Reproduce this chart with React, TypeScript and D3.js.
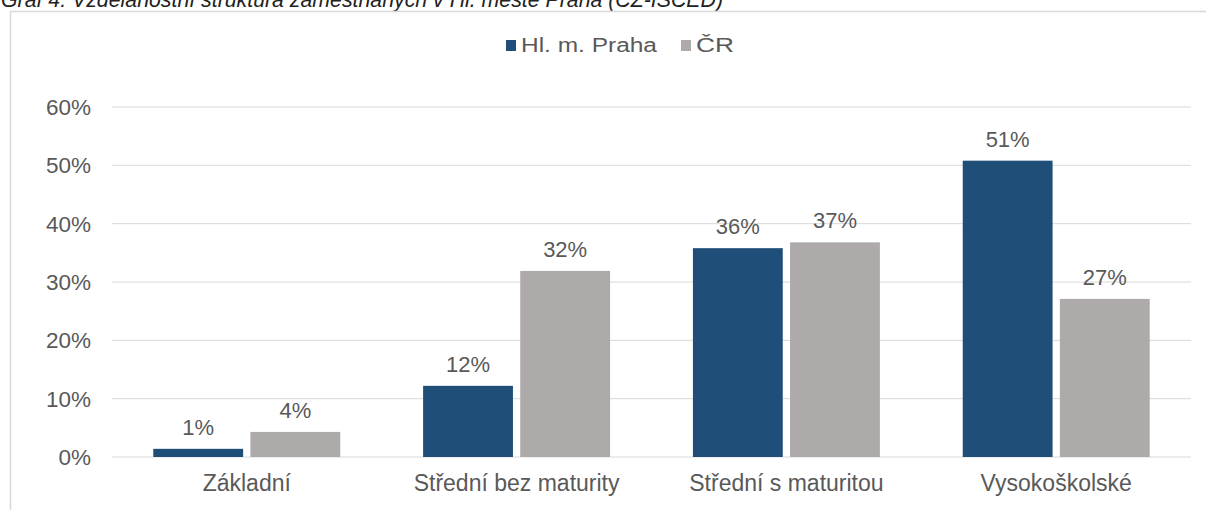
import * as d3 from "d3";

const categories = ["Základní", "Střední bez maturity", "Střední s maturitou", "Vysokoškolské"];
const series = ["Hl. m. Praha", "ČR"];
const praha = [1.4, 12.2, 35.8, 50.8];
const cr = [4.3, 31.9, 36.8, 27.1];
const yTicks = [0, 10, 20, 30, 40, 50, 60];
const colors = ["#1f4e79", "#aeaaaa"];

const W = 1206;
const H = 510;
const margin = { left: 112, right: 15, top: 107, bottom: 53 };
const font = "'Liberation Sans', Arial, sans-serif";
const textColor = "#595959";

export default function App() {
  const x = d3
    .scaleBand<string>()
    .domain(categories)
    .range([margin.left, W - margin.right])
    .paddingInner(0.307)
    .paddingOuter(0.153);
  const x1 = d3.scaleBand<string>().domain(series).range([0, x.bandwidth()]).paddingInner(0.075);
  const y = d3.scaleLinear().domain([0, 60]).range([H - margin.bottom, margin.top]);

  const values = [praha, cr];

  return (
    <svg width={W} height={H} style={{ position: "absolute", left: 0, top: 0 }}>
      <rect x={0} y={0} width={W} height={H} fill="#fff" />
      <text x={1} y={7} fontFamily={font} fontStyle="italic" fontSize={21.3} fill="#222">
        Graf 4: Vzdělanostní struktura zaměstnaných v Hl. městě Praha (CZ-ISCED)
      </text>
      <path d={`M10.5,${H} V11.5 H${W}`} fill="none" stroke="#d9d9d9" strokeWidth={1.5} />

      {/* legend */}
      <g fontFamily={font} fontSize={20} fill={textColor}>
        <rect x={506} y={40} width={10} height={11} fill={colors[0]} />
        <text x={521} y={52} textLength={136} lengthAdjust="spacingAndGlyphs">
          {series[0]}
        </text>
        <rect x={681} y={40} width={10} height={11} fill={colors[1]} />
        <text x={696} y={52} textLength={38} lengthAdjust="spacingAndGlyphs">
          {series[1]}
        </text>
      </g>

      {/* grid + y axis */}
      {yTicks.map((t) => (
        <g key={t}>
          <line
            x1={margin.left}
            x2={W - margin.right}
            y1={y(t)}
            y2={y(t)}
            stroke="#d9d9d9"
            strokeWidth={1}
          />
          <text
            x={91}
            y={y(t)}
            dy="0.35em"
            textAnchor="end"
            fontFamily={font}
            fontSize={22.5}
            fill={textColor}
          >
            {t}%
          </text>
        </g>
      ))}

      {/* bars */}
      {categories.map((c, i) => (
        <g key={c} transform={`translate(${x(c)},0)`}>
          {series.map((s, j) => {
            const v = values[j][i];
            const bx = x1(s)!;
            return (
              <g key={s}>
                <rect
                  x={bx}
                  y={y(v)}
                  width={x1.bandwidth()}
                  height={y(0) - y(v)}
                  fill={colors[j]}
                />
                <text
                  x={bx + x1.bandwidth() / 2}
                  y={y(v) - 14}
                  textAnchor="middle"
                  fontFamily={font}
                  fontSize={22}
                  fill={textColor}
                >
                  {Math.round(v)}%
                </text>
              </g>
            );
          })}
          <text
            x={x.bandwidth() / 2}
            y={H - 19}
            textAnchor="middle"
            fontFamily={font}
            fontSize={23}
            fill={textColor}
          >
            {c}
          </text>
        </g>
      ))}
    </svg>
  );
}
